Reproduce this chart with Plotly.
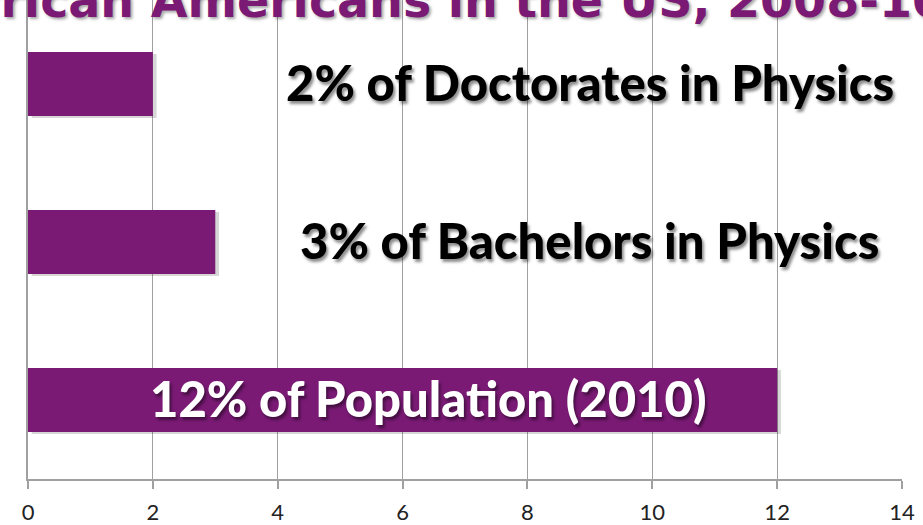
import plotly.graph_objects as go

# Share of African Americans, 2008-10
categories = ["Doctorates in Physics", "Bachelors in Physics", "Population (2010)"]
values = [2, 3, 12]
label_templates = ["{v}% of Doctorates in Physics",
                   "{v}% of Bachelors in Physics",
                   "{v}% of Population (2010)"]
tick_values = [0, 2, 4, 6, 8, 10, 12, 14]
title_text = "African Americans in the US, 2008-10"

PURPLE = "#7a1a75"
GRID = "#a0a0a0"

fig = go.Figure()

# soft drop shadow under each bar
fig.add_trace(go.Bar(
    y=categories, x=values, orientation="h", base=0.06,
    marker=dict(color="rgba(0,0,0,0.16)", line=dict(width=0)),
    width=0.405, offset=-0.19, hoverinfo="skip", showlegend=False,
))
fig.add_trace(go.Bar(
    y=categories, x=values, orientation="h",
    marker=dict(color=PURPLE, line=dict(width=0)),
    width=0.405, showlegend=False,
))

label_pos = [9.0, 9.0, 6.42]
label_colors = ["#000000", "#000000", "#ffffff"]
for cat, v, tmpl, xp, col in zip(categories, values, label_templates, label_pos, label_colors):
    fig.add_annotation(
        x=xp, y=cat, xref="x", yref="y", text=tmpl.format(v=v),
        showarrow=False, xanchor="center", yanchor="middle", yshift=2,
        font=dict(family="Lato", size=49, color=col, weight=900,
                  shadow="2px 3px 3px rgba(0,0,0,0.45)"),
    )

fig.add_annotation(
    x=-0.1, y=1.0, xref="paper", yref="paper", text=title_text,
    showarrow=False, xanchor="left", yanchor="middle",
    font=dict(family="DejaVu Sans", size=47.5, color=PURPLE, weight="bold",
              shadow="2px 2px 3px rgba(0,0,0,0.35)"),
)

fig.update_layout(
    width=923, height=525,
    margin=dict(l=28, r=21, t=0, b=46),
    paper_bgcolor="white", plot_bgcolor="white",
    barmode="overlay",
    xaxis=dict(
        range=[0, 14], tickvals=tick_values, ticktext=[str(t) for t in tick_values],
        showgrid=True, gridcolor=GRID, gridwidth=1.3,
        showline=True, linecolor=GRID, linewidth=1.5,
        ticks="outside", ticklen=8, tickcolor=GRID, tickwidth=1.5,
        ticklabelstandoff=5, automargin=False,
        tickfont=dict(family="Lato", size=22, color="#222222"),
        zeroline=False, fixedrange=True,
    ),
    yaxis=dict(
        categoryorder="array", categoryarray=categories,
        range=[2.5, -0.5316], automargin=False,
        showticklabels=False, showgrid=False,
        showline=True, linecolor=GRID, linewidth=1.5,
        zeroline=False, fixedrange=True,
    ),
)

fig.write_html("out.html")
